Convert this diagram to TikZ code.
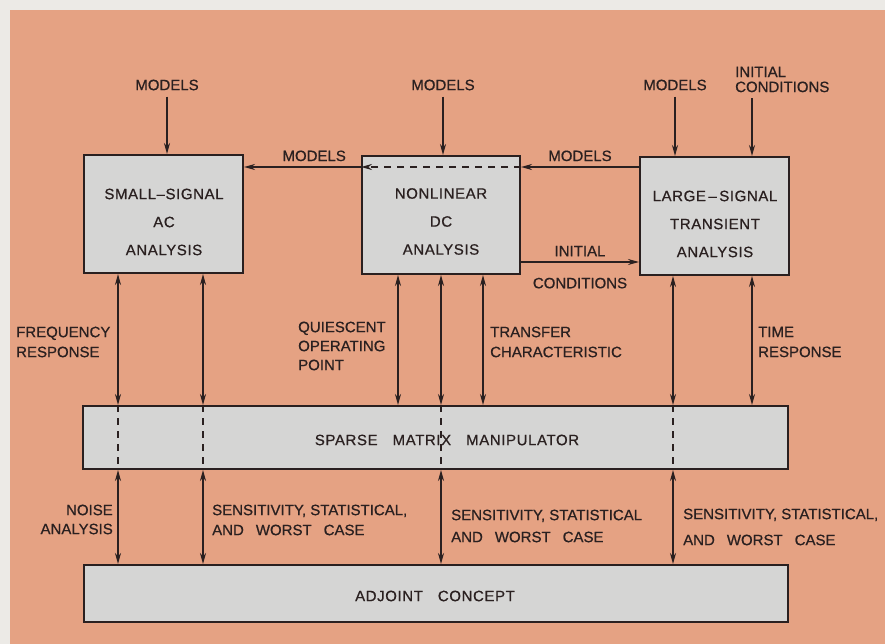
\documentclass[tikz,border=0pt]{standalone}
\usepackage{fontspec}
\setmainfont{Liberation Sans}[FakeBold=0.7]
\newfontfamily\blockfont{Liberation Sans}[LetterSpace=4, FakeBold=0.7]
\usetikzlibrary{arrows.meta}

\definecolor{paper}{RGB}{229,162,131}
\definecolor{margin}{RGB}{236,234,230}
\definecolor{panel}{RGB}{213,213,212}
\definecolor{ink}{RGB}{42,32,32}

\tikzset{
  block/.style={draw=ink, line width=2pt, fill=panel},
  blocktext/.style={text=ink, align=center, inner sep=0pt, font=\blockfont\fontsize{15}{28}\selectfont},
  lbl/.style={text=ink, inner sep=2pt, font=\fontsize{15}{20}\selectfont},
  flow/.style={draw=ink, line width=1.6pt},
  thru/.style={flow, dash pattern=on 7pt off 6pt},
}

\begin{document}
\begin{tikzpicture}[x=1pt, y=-1pt, >={Stealth[length=11pt,width=6pt]}]

    \useasboundingbox (0,0) rectangle (885,644);

    % Paper
    \fill[margin] (0,0) rectangle (885,644);
    \fill[paper] (10,10) rectangle (885,644);

    % Columns and rows
    \coordinate (acL) at (118,0);
    \coordinate (acR) at (203,0);
    \coordinate (dcL) at (398,0);
    \coordinate (dcM) at (441,0);
    \coordinate (dcR) at (483,0);
    \coordinate (trL) at (673,0);
    \coordinate (trR) at (752,0);
    \coordinate (modrow) at (0,167);
    \coordinate (initrow) at (0,262);

    % Analysis blocks
    \node[block, minimum width=159pt, minimum height=118pt] (ac) at (163.5,214) {};
    \node[block, minimum width=158pt, minimum height=118pt] (dc) at (441,215) {};
    \node[block, minimum width=149pt, minimum height=118pt] (tr) at (714.5,216) {};
    \node[blocktext] (actext) at (164,222) {SMALL–SIGNAL\\AC\\ANALYSIS};
    \node[blocktext] (dctext) at (441,221.5) {NONLINEAR\\DC\\ANALYSIS};
    \node[blocktext] (trtext) at (715,224) {LARGE\,–\,SIGNAL\\TRANSIENT\\ANALYSIS};

    % Shared blocks
    \node[block, minimum width=705pt, minimum height=63pt] (smm) at (435.5,437.5) {};
    \node[blocktext] (smmtext) at (447,440) {SPARSE\quad MATRIX\quad MANIPULATOR};
    \node[block, minimum width=704pt, minimum height=57pt] (adj) at (436,593.5) {};
    \node[blocktext] (adjtext) at (435,596) {ADJOINT\quad CONCEPT};

    % Inputs
    \node[lbl] (acmod) at (167,85) {MODELS};
    \node[lbl] (dcmod) at (443,85) {MODELS};
    \node[lbl] (trmod) at (675,85) {MODELS};
    \node[lbl, align=left, anchor=west, font=\fontsize{15}{15}\selectfont] (trinit) at (733,79.5) {INITIAL\\CONDITIONS};
    \draw[flow, ->, shorten <=4pt] (acmod) -- (acmod |- ac.north);
    \draw[flow, ->, shorten <=4pt] (dcmod) -- (dcmod |- dc.north);
    \draw[flow, ->, shorten <=4pt] (trmod) -- (trmod |- tr.north);
    \draw[flow, ->, shorten <=4pt] (trinit.south -| trR) -- (tr.north -| trR);

    % Models handed on
    \draw[flow, ->] (tr.west |- modrow) -- (dc.east |- modrow)
        node[lbl, midway, above=3pt] (dcin) {MODELS};
    \draw[thru, ->] (dc.east |- modrow) -- (dc.west |- modrow);
    \draw[flow, ->] (dc.west |- modrow) -- (ac.east |- modrow)
        node[lbl, pos=0.4, above=3pt] (acin) {MODELS};

    % Initial conditions
    \draw[flow, ->] (dc.east |- initrow) -- (tr.west |- initrow)
        node[lbl, midway, above=3pt] (initup) {INITIAL}
        node[lbl, midway, below=13pt] (initdn) {CONDITIONS};

    % Analyses to matrix manipulator
    \draw[flow, <->] (ac.south -| acL) -- (smm.north -| acL);
    \draw[flow, <->] (ac.south -| acR) -- (smm.north -| acR);
    \draw[flow, <->] (dc.south -| dcL) -- (smm.north -| dcL);
    \draw[flow, <->] (dc.south -| dcM) -- (smm.north -| dcM);
    \draw[flow, <->] (dc.south -| dcR) -- (smm.north -| dcR);
    \draw[flow, <->] (tr.south -| trL) -- (smm.north -| trL);
    \draw[flow, <->] (tr.south -| trR) -- (smm.north -| trR);

    % Through the manipulator
    \draw[thru] (smm.north -| acL) -- (smm.south -| acL);
    \draw[thru] (smm.north -| acR) -- (smm.south -| acR);
    \draw[thru] (smm.north -| dcM) -- (smm.south -| dcM);
    \draw[thru] (smm.north -| trL) -- (smm.south -| trL);

    % Manipulator to adjoint
    \draw[flow, <->] (smm.south -| acL) -- (adj.north -| acL);
    \draw[flow, <->] (smm.south -| acR) -- (adj.north -| acR);
    \draw[flow, <->] (smm.south -| dcM) -- (adj.north -| dcM);
    \draw[flow, <->] (smm.south -| trL) -- (adj.north -| trL);

    % Upper labels
    \node[lbl, align=left, anchor=west] (freq) at (14,342) {FREQUENCY\\RESPONSE};
    \node[lbl, align=left, anchor=west, font=\fontsize{15}{19}\selectfont] (qop) at (296,346) {QUIESCENT\\OPERATING\\POINT};
    \node[lbl, align=left, anchor=west] (tch) at (488,342) {TRANSFER\\CHARACTERISTIC};
    \node[lbl, align=left, anchor=west] (tresp) at (756,342) {TIME\\RESPONSE};

    % Lower labels
    \node[lbl, align=right, anchor=east, font=\fontsize{15}{19}\selectfont] (noise) at (115,519.5) {NOISE\\ANALYSIS};
    \node[lbl, align=left, anchor=west] (sensac) at (210,520) {SENSITIVITY, STATISTICAL,\\AND\hspace{12pt}WORST\hspace{12pt}CASE};
    \node[lbl, align=left, anchor=west, font=\fontsize{15}{22}\selectfont] (sensdc) at (449,526) {SENSITIVITY, STATISTICAL\\AND\hspace{12pt}WORST\hspace{12pt}CASE};
    \node[lbl, align=left, anchor=west, font=\fontsize{15}{26}\selectfont] (senstr) at (681,527) {SENSITIVITY, STATISTICAL,\\AND\hspace{12pt}WORST\hspace{12pt}CASE};

\end{tikzpicture}
\end{document}
